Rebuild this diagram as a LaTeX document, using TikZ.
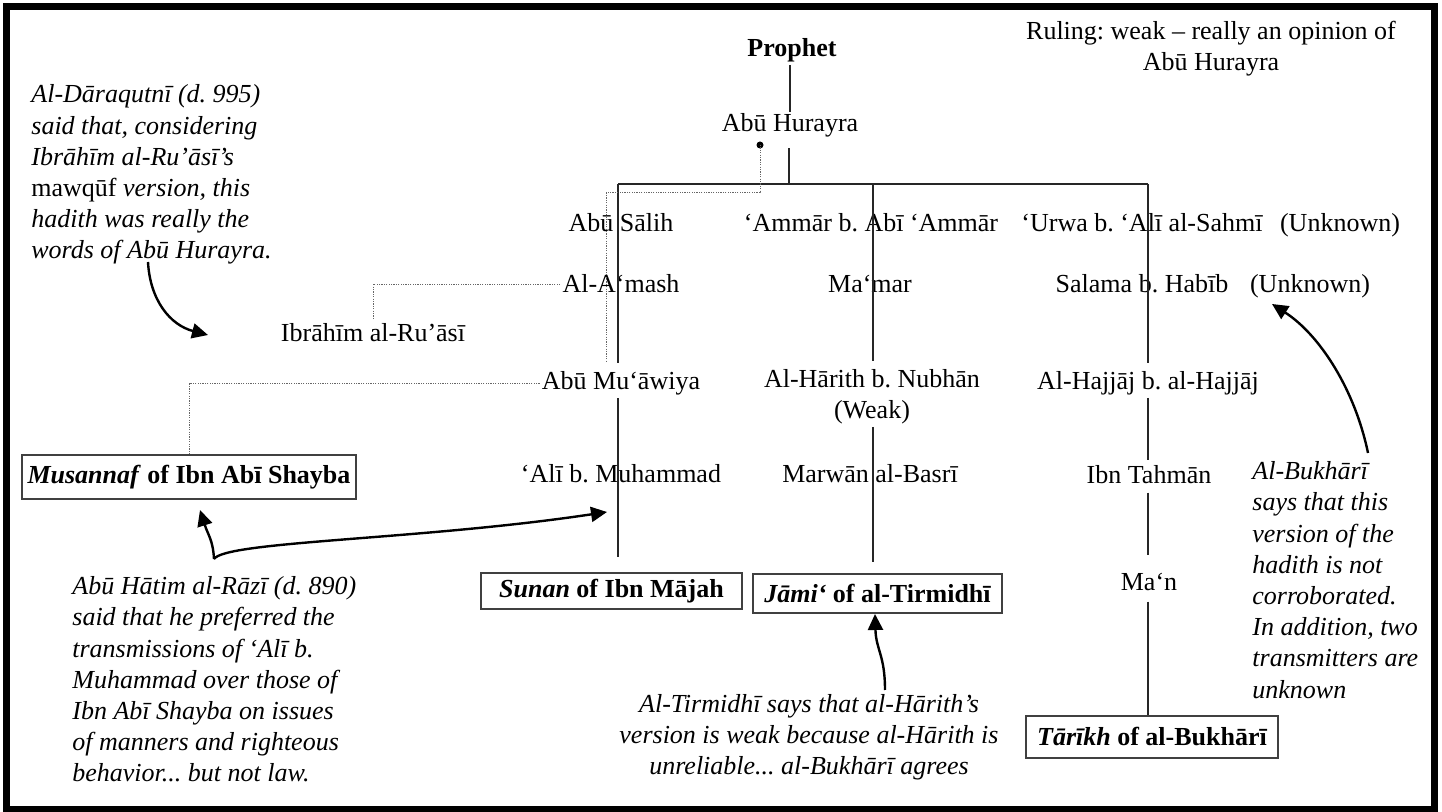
\documentclass[tikz,border=0pt]{standalone}
\usepackage{fontspec}
\setmainfont{Liberation Serif}
\frenchspacing
\usetikzlibrary{arrows.meta,calc}
\tikzset{
  nm/.style={font=\fontsize{13}{15.5}\selectfont, inner sep=1pt, anchor=base},
  note/.style={font=\fontsize{13}{15.6}\selectfont\itshape, inner sep=0pt, anchor=base west, align=left},
  src/.style={draw=black!75, line width=0.6pt, font=\fontsize{13}{15.5}\selectfont\bfseries, inner sep=2pt},
  tree/.style={line width=0.6pt, draw=black!85},
  dots/.style={line width=0.5pt, draw=black!60, dash pattern=on 0.6pt off 0.6pt},
  callout/.style={line width=1.2pt, -{Triangle[length=8pt,width=7.5pt]}},
}
\begin{document}
\begin{tikzpicture}[x=0.5pt,y=-0.5pt]
\useasboundingbox (0,0) rectangle (1442,812);
\fill[white] (0,0) rectangle (1442,812);
\draw[line width=3.5pt] (6.5,7) rectangle (1434,809.5);

% top (multi-line nodes: base = baseline of last line)
\node[nm, font=\fontsize{13}{15.5}\selectfont\bfseries] (prophet) at (792,57) {Prophet};
\node[nm] (hurayra) at (790,132) {Abū Hurayra};
\node[nm, align=center] (ruling) at (1211,71) {Ruling: weak – really an opinion of\\Abū Hurayra};

% row 1
\node[nm] (salih) at (621,232) {Abū Sālih};
\node[nm] (ammar) at (871,232) {‘Ammār b. Abī ‘Ammār};
\node[nm] (urwa) at (1142,232) {‘Urwa b. ‘Alī al-Sahmī};
\node[nm] (unk1) at (1340,232) {(Unknown)};
% row 2
\node[nm] (amash) at (621,293) {Al-A‘mash};
\node[nm] (mamar) at (870,293) {Ma‘mar};
\node[nm] (salama) at (1142,293) {Salama b. Habīb};
\node[nm] (unk2) at (1310,293) {(Unknown)};
\node[nm] (ibrahim) at (373,342) {Ibrāhīm al-Ru’āsī};
% row 3
\node[nm] (muawiya) at (621,390) {Abū Mu‘āwiya};
\node[nm, align=center] (harith) at (872,419) {Al-Hārith b. Nubhān\\(Weak)};
\node[nm] (hajjaj) at (1148,390) {Al-Hajjāj b. al-Hajjāj};
% row 4
\node[nm] (ali) at (621,483) {‘Alī b. Muhammad};
\node[nm] (marwan) at (870,483) {Marwān al-Basrī};
\node[nm] (tahman) at (1149,484) {Ibn Tahmān};
\node[nm] (man) at (1149,591) {Ma‘n};

% sources
\node[src, minimum width=167pt, minimum height=22pt] (musannaf) at (189,477) {\textit{Musannaf} of Ibn Abī Shayba};
\node[src, minimum width=130.5pt, minimum height=18pt] (sunan) at (611.5,591) {\textit{Sunan} of Ibn Mājah};
\node[src, minimum width=124.5pt, minimum height=19.5pt] (jami) at (877.5,593.5) {\textit{Jāmi‘} of al-Tirmidhī};
\node[src, minimum width=126pt, minimum height=21pt] (tarikh) at (1152,737) {\textit{Tārīkh} of al-Bukhārī};

% notes
\node[note] (daraq) at (31,259) {Al-Dāraqutnī (d. 995)\\said that, considering\\Ibrāhīm al-Ru’āsī’s\\{\upshape mawqūf} version, this\\hadith was really the\\words of Abū Hurayra.};
\node[note] (hatim) at (72,782) {Abū Hātim al-Rāzī (d. 890)\\said that he preferred the\\transmissions of ‘Alī b.\\Muhammad over those of\\Ibn Abī Shayba on issues\\of manners and righteous\\behavior... but not law.};
\node[note, anchor=base, align=center] (tirm) at (809,775) {Al-Tirmidhī says that al-Hārith’s\\version is weak because al-Hārith is\\unreliable... al-Bukhārī agrees};
\node[note] (bukh) at (1252,698) {Al-Bukhārī\\says that this\\version of the\\hadith is not\\corroborated.\\In addition, two\\transmitters are\\unknown};

% tree lines
\coordinate (bar) at (789,184);
\coordinate (c1) at (618,184);
\coordinate (c2) at (873,184);
\coordinate (c3) at (1148,184);
\draw[tree] (prophet.south -| hurayra) -- (hurayra.north);
\draw[tree] ([yshift=-4pt]hurayra.south -| bar) -- (bar);
\draw[tree] (c1) -- (c3);
\draw[tree] (c1) -- ([yshift=3.5pt]c1 |- muawiya.north);
\draw[tree] (c1 |- muawiya.south) -- ([yshift=7.5pt]c1 |- sunan.north);
\draw[tree] (c2) -- ([yshift=3.5pt]c2 |- harith.north);
\draw[tree] (c2 |- harith.south) -- ([yshift=5.5pt]c2 |- jami.north);
\draw[tree] (c3) -- ([yshift=3.5pt]c3 |- hajjaj.north);
\draw[tree] (c3 |- hajjaj.south) -- ([yshift=2pt]c3 |- tahman.north);
\draw[tree] ([yshift=-3pt]c3 |- tahman.south) -- ([yshift=8pt]c3 |- man.north);
\draw[tree] ([yshift=-4pt]c3 |- man.south) -- (c3 |- tarikh.north);

% dotted links
\coordinate (dot) at (760,145);
\coordinate (dcorner) at (606,193);
\fill (dot) circle (1.75pt);
\draw[dots] (dot) -- (dot |- dcorner) -- (dcorner) -- ([yshift=3.5pt]dcorner |- muawiya.north);
\draw[dots] (amash.west) -| ([yshift=1pt]ibrahim.north);
\draw[dots] (muawiya.west) -| (musannaf.north);

% callout arrows
\coordinate (a1s) at (148,262);
\coordinate (a1e) at (208,335);
\draw[callout] (a1s) .. controls (150,300) and (170,325) .. (a1e);
\coordinate (a2s) at (214,559);
\coordinate (a2e) at (200,510);
\coordinate (a3e) at (607,512);
\draw[callout] (a2s) .. controls (213,540) and (208,535) .. (a2e);
\draw[callout] (a2s) .. controls (226,541) and (420,540) .. (a3e);
\coordinate (a4s) at (885,690);
\coordinate (a4e) at (875,614);
\draw[callout] (a4s) .. controls (885,655) and (876,650) .. (a4e);
\coordinate (a5s) at (1368,453);
\coordinate (a5e) at (1272,304);
\draw[callout] (a5s) .. controls (1355,390) and (1320,335) .. (a5e);
\end{tikzpicture}
\end{document}
